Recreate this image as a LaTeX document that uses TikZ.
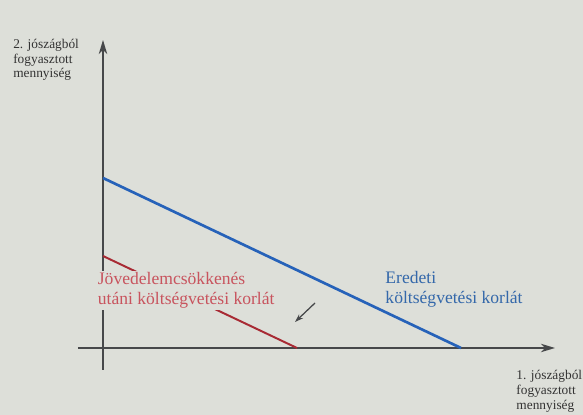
\documentclass[tikz,border=0pt]{standalone}
\usepackage{fontspec}
\setmainfont{Liberation Serif}
\usetikzlibrary{arrows.meta}
\definecolor{paper}{RGB}{221,223,217}
\definecolor{axisgrey}{RGB}{70,72,74}
\definecolor{origblue}{RGB}{38,98,185}
\definecolor{newred}{RGB}{168,42,52}
\definecolor{redtext}{RGB}{200,84,94}
\definecolor{bluetext}{RGB}{52,104,170}
\tikzset{
  axis/.style={draw=axisgrey, line width=1.3pt, -{Stealth[length=10pt,width=6pt,inset=3pt]}},
  budget/.style={line width=1.9pt},
  label/.style={font=\fontsize{12.5}{13.8}\selectfont, align=left, inner sep=1pt},
  axlabel/.style={font=\fontsize{9.5}{10.4}\selectfont, align=left, inner sep=0pt, text=black!80}
}
\begin{document}
\begin{tikzpicture}
 	\fill[paper] (-2.575,-1.675) rectangle (12,8.7);
 	\useasboundingbox (-2.575,-1.675) rectangle (12,8.7);
 	\coordinate (O) at (0,0);
 	\coordinate (Ybot) at (0,-0.55);
 	\coordinate (Ytop) at (0,7.7);
 	\coordinate (Xleft) at (-0.625,0);
 	\coordinate (Xright) at (11.3,0);
 	\coordinate (B1) at (0,4.25);
 	\coordinate (B2) at (8.95,0);
 	\coordinate (R1) at (0,2.3);
 	\coordinate (R2) at (4.85,0);
 	\coordinate (Pfrom) at (5.3,1.125);
 	\coordinate (Pto) at (4.8,0.65);
 	\draw[axis] (Ybot) -- (Ytop);
 	\draw[axis] (Xleft) -- (Xright);
 	\draw[budget, origblue] (B1) -- (B2);
 	\draw[budget, newred, line width=1.4pt] (R1) -- (R2);
 	\node[label, text=redtext, fill=paper, anchor=west](Newlbl) at (-0.17,1.44) {Jövedelemcsökkenés\\utáni költségvetési korlát};
 	\node[label, text=bluetext, anchor=west](Origlbl) at (7.02,1.47) {Eredeti\\költségvetési korlát};
 	\draw[axisgrey, line width=0.9pt, -{Stealth[length=6pt,width=4pt,inset=2pt]}] (Pfrom) -- (Pto);
 	\node[axlabel, anchor=west](Ylbl) at (-2.25,7.2) {2. jószágból\\fogyasztott\\mennyiség};
 	\node[axlabel, anchor=west](Xlbl) at (10.33,-1.08) {1. jószágból\\fogyasztott\\mennyiség};
\end{tikzpicture}
\end{document}
